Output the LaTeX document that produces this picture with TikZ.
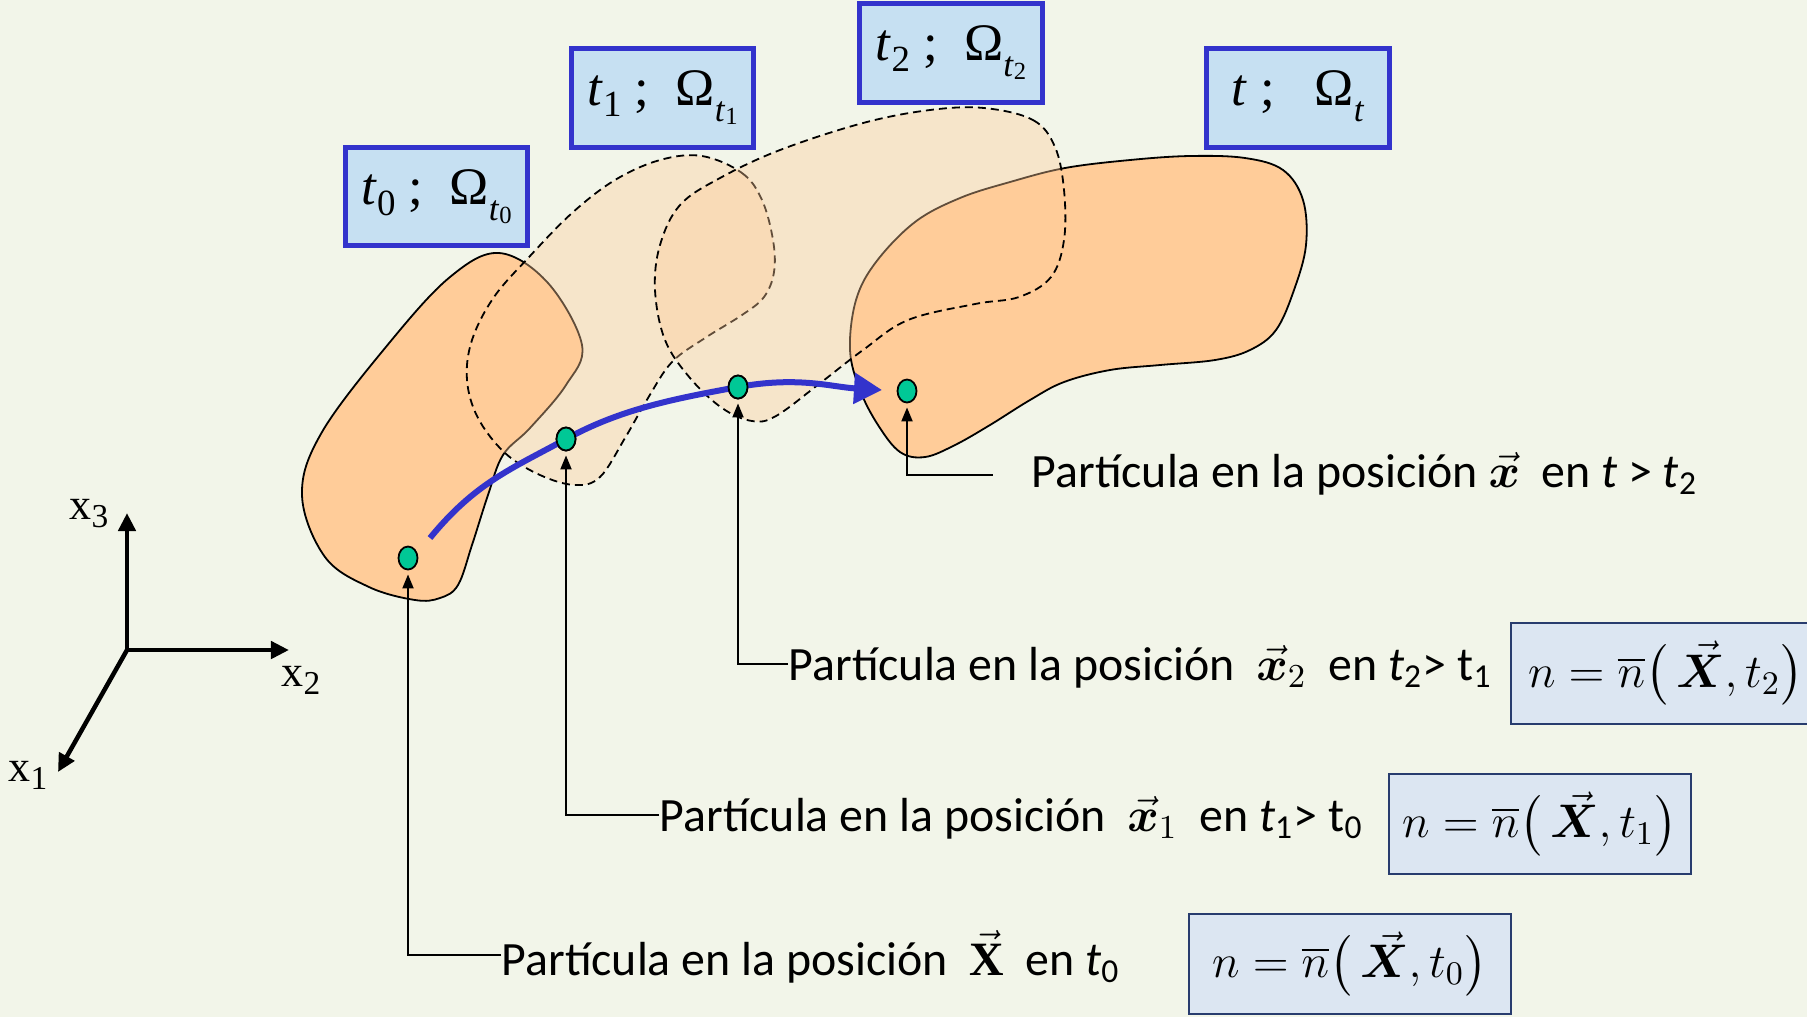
\RequirePackage{fix-cm}
\documentclass[tikz,border=0pt]{standalone}
\usepackage{fontspec}
\usepackage{amsmath,bm}
\setmainfont{Carlito}
\newfontfamily\tnr{Liberation Serif}
\usetikzlibrary{arrows.meta,shapes.geometric}
\definecolor{bgc}{RGB}{242,245,233}
\definecolor{peach}{RGB}{255,204,153}
\definecolor{bbord}{RGB}{51,51,204}
\definecolor{bfill}{RGB}{198,224,242}
\definecolor{fbord}{RGB}{40,60,110}
\definecolor{ffill}{RGB}{220,230,242}
\definecolor{dotg}{RGB}{0,200,150}
\definecolor{flowc}{RGB}{51,51,204}
\newcommand\tsub[1]{\raisebox{-0.11cm}{\fontsize{10.5}{11}\selectfont #1}}
\newcommand\osub[1]{\raisebox{-0.16cm}{\fontsize{10}{11}\selectfont\textit{t}\raisebox{-0.03cm}{\fontsize{7}{8}\selectfont #1}}}
\newcommand\axsub[1]{\raisebox{-0.08cm}{\fontsize{9.5}{10}\selectfont #1}}
\tikzset{
  tbox/.style={draw=bbord, line width=0.05cm, fill=bfill, minimum width=1.82cm, minimum height=0.98cm, inner sep=0pt, font=\tnr\fontsize{15}{18}\selectfont},
  fbox/.style={draw=fbord, line width=0.02cm, fill=ffill, minimum height=1.0cm, inner sep=0pt, font=\fontsize{13.4}{16}\selectfont},
  lab/.style={anchor=base west, inner sep=0pt, font=\fontsize{13.6}{16}\selectfont},
  axl/.style={inner sep=0pt, font=\tnr\fontsize{12.5}{14}\selectfont},
  dotn/.style={ellipse, draw, line width=0.018cm, fill=dotg, minimum width=0.19cm, minimum height=0.23cm, inner sep=0pt},
  solidshape/.style={draw, line width=0.018cm, fill=peach},
  ghost/.style={draw, line width=0.018cm, dash pattern=on 0.08cm off 0.05cm, fill=peach, fill opacity=0.38},
  pin/.style={line width=0.02cm, -{Triangle[length=0.14cm,width=0.11cm]}},
  axis/.style={line width=0.045cm},
  flow/.style={draw=flowc, line width=0.06cm, -{Triangle[length=0.28cm,width=0.3cm]}}
}
\begin{document}
\begin{tikzpicture}[x=0.01cm,y=-0.01cm]
\fill[bgc] (0,0) rectangle (1807,1017);
\useasboundingbox (0,0) rectangle (1807,1017);
% shapes
\path[solidshape] plot[smooth cycle, tension=0.6] coordinates {(499,253) (548,283) (582,345) (566,385) (530,428) (503,455) (488,495) (472,545) (458,585) (440,598) (415,600) (369,587) (325,557) (302,495) (322,432) (390,342) (450,277)};
\path[solidshape] plot[smooth cycle, tension=0.6] coordinates {(850,350) (856,300) (876,262) (915,222) (960,198) (1010,182) (1065,168) (1130,160) (1190,156) (1245,158) (1283,170) (1303,200) (1306,245) (1294,290) (1276,330) (1250,350) (1215,360) (1160,365) (1110,370) (1064,382) (1030,400) (990,425) (955,445) (925,457) (900,452) (878,425) (860,390)};
\path[ghost] plot[smooth cycle, tension=0.6] coordinates {(702,156) (742,173) (762,200) (773,240) (774,272) (764,297) (742,315) (705,338) (672,362) (648,398) (625,438) (600,477) (575,485) (540,475) (505,453) (478,418) (467,380) (472,340) (494,297) (530,256) (572,213) (615,180) (660,160)};
\path[ghost] plot[smooth cycle, tension=0.6] coordinates {(984,108) (1033,120) (1055,147) (1064,190) (1064,240) (1051,277) (1019,297) (975,304) (908,320) (863,350) (819,384) (776,416) (752,421) (722,408) (690,378) (665,340) (655,290) (660,245) (680,205) (720,178) (780,150) (863,123) (930,110)};
% time boxes
\node[tbox] (b0) at (436.5,196.5) {\textit{t}\tsub{0}\ ;\ \ Ω\osub{0}};
\node[tbox] (b1) at (662.5,98) {\textit{t}\tsub{1}\ ;\ \ Ω\osub{1}};
\node[tbox] (b2) at (951,53) {\textit{t}\tsub{2}\ ;\ \ Ω\osub{2}};
\node[tbox] (b3) at (1298,98) {\textit{t}\ ;\ \ \ Ω\osub{}};
% axes
\coordinate (o) at (127,650);
\coordinate (t3) at (127,513);
\coordinate (t2) at (289,650);
\coordinate (t1) at (58,772);
\draw[axis, {Triangle[length=0.18cm,width=0.17cm]}-{Triangle[length=0.18cm,width=0.17cm]}] (t3) -- (o) -- (t2);
\draw[axis, -{Triangle[length=0.18cm,width=0.17cm]}] (o) -- (t1);
\node[axl] (ax3) at (89,514) {x\axsub{3}};
\node[axl] (ax2) at (301,680) {x\axsub{2}};
\node[axl] (ax1) at (28,775) {x\axsub{1}};
% dots
\node[dotn] (d0) at (408,558) {};
\node[dotn] (d1) at (566,439) {};
\node[dotn] (d2) at (738,387) {};
\node[dotn] (d3) at (907,391) {};
% flow curve
\coordinate (s) at (430,538);
\coordinate (e) at (882,390);
\draw[flow] (s) .. controls +(45,-55) and +(-55,30) .. (d1.center) .. controls +(55,-30) and +(-65,12) .. (d2.center) .. controls +(60,-11) and +(-50,-3) .. (e);
\node[dotn] at (d1) {};
\node[dotn] at (d2) {};
% labels
\node[lab] (lx) at (1031,487) {Partícula en la posición $\vec{\bm x}$\ \ en \textit{t} > \textit{t}\textsubscript{2}};
\node[lab] (l2) at (788,680) {Partícula en la posición\ \ $\vec{\bm x}_2$\ \ en \textit{t}\textsubscript{2}> t\textsubscript{1}};
\node[lab] (l1) at (659,831) {Partícula en la posición\ \ $\vec{\bm x}_1$\ \ en \textit{t}\textsubscript{1}> t\textsubscript{0}};
\node[lab] (l0) at (501,975) {Partícula en la posición\ \ $\vec{\text{\tnr\bfseries X}}$\ \ en \textit{t}\textsubscript{0}};
% pins
\draw[pin] ([xshift=-0.38cm,yshift=0.12cm]lx.base west) -| ([yshift=-0.04cm]d3.south);
\draw[pin] ([yshift=0.16cm]l2.base west) -| ([yshift=-0.04cm]d2.south);
\draw[pin] ([yshift=0.16cm]l1.base west) -| ([yshift=-0.04cm]d1.south);
\draw[pin] ([yshift=0.2cm]l0.base west) -| ([yshift=-0.04cm]d0.south);
% formula boxes
\node[fbox, minimum width=3.21cm] (f0) at (1350,964) {$n=\overline{n}\bigl(\,\vec{\bm X},t_0\bigr)$};
\node[fbox, minimum width=3.02cm] (f1) at (1540,824) {$n=\overline{n}\bigl(\,\vec{\bm X},t_1\bigr)$};
\node[fbox, anchor=west, text width=3.2cm, align=left, inner xsep=0.17cm] (f2) at (1510,673.5) {$n=\overline{n}\bigl(\,\vec{\bm X},t_2\bigr)$};
\end{tikzpicture}
\end{document}
